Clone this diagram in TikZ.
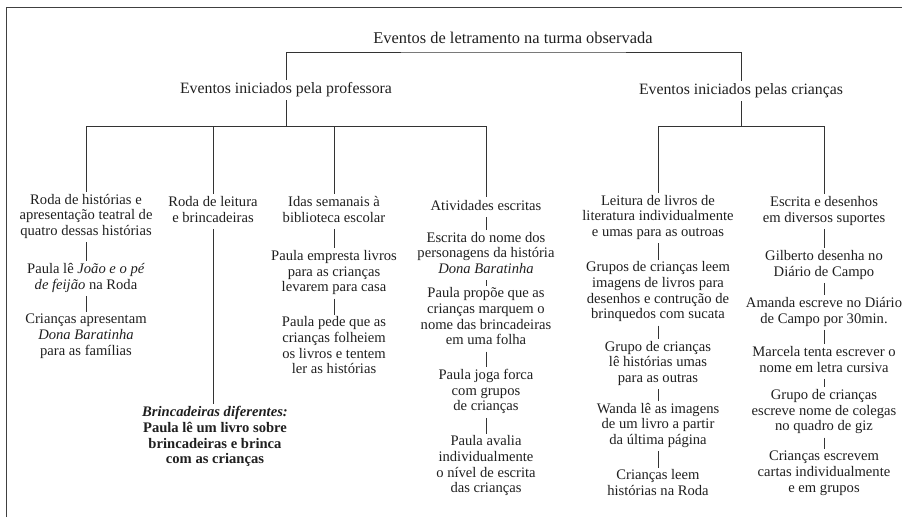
\documentclass[tikz,border=0pt]{standalone}
\usepackage{fontspec}
\setmainfont{Liberation Serif}
\begin{document}
\begin{tikzpicture}[x=1pt,y=-1pt,
  txt/.style={align=center, inner xsep=0pt, inner ysep=2pt, text=black!88,
    font=\fontsize{14.6}{15.6}\selectfont,
    execute at begin node=\strut, execute at end node=\strut},
  lvone/.style={txt, font=\fontsize{15.8}{16.5}\selectfont},
  toptitle/.style={txt, font=\fontsize{16.4}{17}\selectfont},
  conn/.style={draw=black!80, line width=1pt},
  frameline/.style={draw=black!75, line width=1pt}
]
\useasboundingbox (0,0) rectangle (902,517);
\draw[frameline] (6,517) -- (6,7) -- (902,7);

% top levels
\node[toptitle] (title) at (513,40) {Eventos de letramento na turma observada};
\node[lvone] (prof) at (286,90) {Eventos iniciados pela professora};
\node[lvone] (cri) at (741,91) {Eventos iniciados pelas crianças};
\coordinate (tb) at (513,52);
\coordinate (lb) at (286,126);
\coordinate (rb) at (741,126);

% column 1
\node[txt] (c1a) at (86,217) {Roda de histórias e\\apresentação teatral de\\quatro dessas histórias};
\node[txt] (c1b) at (86,278.5) {Paula lê \textit{João e o pé}\\\textit{de feijão} na Roda};
\node[txt] (c1c) at (86,337) {Crianças apresentam\\\textit{Dona Baratinha}\\para as famílias};

% column 2
\node[txt] (c2a) at (213,211.5) {Roda de leitura\\e brincadeiras};
\node[txt] (c2b) at (215,437.5) {\textbf{\textit{Brincadeiras diferentes:}}\\\textbf{Paula lê um livro sobre}\\\textbf{brincadeiras e brinca}\\\textbf{com as crianças}};

% column 3
\node[txt] (c3a) at (334,211.5) {Idas semanais à\\biblioteca escolar};
\node[txt] (c3b) at (334,273.5) {Paula empresta livros\\para as crianças\\levarem para casa};
\node[txt] (c3c) at (334,347.5) {Paula pede que as\\crianças folheiem\\os livros e tentem\\ler as histórias};

% column 4
\node[txt] (c4a) at (486,207) {Atividades escritas};
\node[txt] (c4b) at (486,255) {Escrita do nome dos\\personagens da história\\\textit{Dona Baratinha}};
\node[txt] (c4c) at (486,318.5) {Paula propõe que as\\crianças marquem o\\nome das brincadeiras\\em uma folha};
\node[txt] (c4d) at (486,392.5) {Paula joga forca\\com grupos\\de crianças};
\node[txt] (c4e) at (486,466.5) {Paula avalia\\individualmente\\o nível de escrita\\das crianças};

% column 5
\node[txt] (c5a) at (658,218) {Leitura de livros de\\literatura individualmente\\e umas para as outroas};
\node[txt] (c5b) at (658,292.5) {Grupos de crianças leem\\imagens de livros para\\desenhos e contrução de\\brinquedos com sucata};
\node[txt] (c5c) at (658,364) {Grupo de crianças\\lê histórias umas\\para as outras};
\node[txt] (c5d) at (658,426) {Wanda lê as imagens\\de um livro a partir\\da última página};
\node[txt] (c5e) at (658,485) {Crianças leem\\histórias na Roda};

% column 6
\node[txt] (c6a) at (824,211.5) {Escrita e desenhos\\em diversos suportes};
\node[txt] (c6b) at (824,265.5) {Gilberto desenha no\\Diário de Campo};
\node[txt] (c6c) at (824,312.5) {Amanda escreve no Diário\\de Campo por 30min.};
\node[txt] (c6d) at (824,361.5) {Marcela tenta escrever o\\nome em letra cursiva};
\node[txt] (c6e) at (824,412.5) {Grupo de crianças\\escreve nome de colegas\\no quadro de giz};
\node[txt] (c6f) at (824,474) {Crianças escrevem\\cartas individualmente\\e em grupos};

% connectors top
\draw[conn] (prof.north) |- (tb) -| (cri.north);
\draw[conn] (prof.south) -- (lb);
\draw[conn] (cri.south) -- (rb);
\foreach \n in {c1a,c2a,c3a,c4a} \draw[conn] (lb) -| (\n.north);
\foreach \n in {c5a,c6a} \draw[conn] (rb) -| (\n.north);

% column connectors
\draw[conn] (c1a.south) -- (c1b.north);
\draw[conn] (c1b.south) -- (c1c.north);
\draw[conn] (c2a.south) -- (c2a.south |- c2b.north);
\draw[conn] (c3a.south) -- (c3b.north);
\draw[conn] (c3b.south) -- (c3c.north);
\draw[conn] (c4a.south) -- (c4b.north);
\draw[conn] (c4b.south) -- (c4c.north);
\draw[conn] (c4c.south) -- (c4d.north);
\draw[conn] (c4d.south) -- (c4e.north);
\draw[conn] (c5a.south) -- (c5b.north);
\draw[conn] (c5b.south) -- (c5c.north);
\draw[conn] (c5c.south) -- (c5d.north);
\draw[conn] (c5d.south) -- (c5e.north);
\draw[conn] (c6a.south) -- (c6b.north);
\draw[conn] (c6b.south) -- (c6c.north);
\draw[conn] (c6c.south) -- (c6d.north);
\draw[conn] (c6d.south) -- (c6e.north);
\draw[conn] (c6e.south) -- (c6f.north);
\end{tikzpicture}
\end{document}
